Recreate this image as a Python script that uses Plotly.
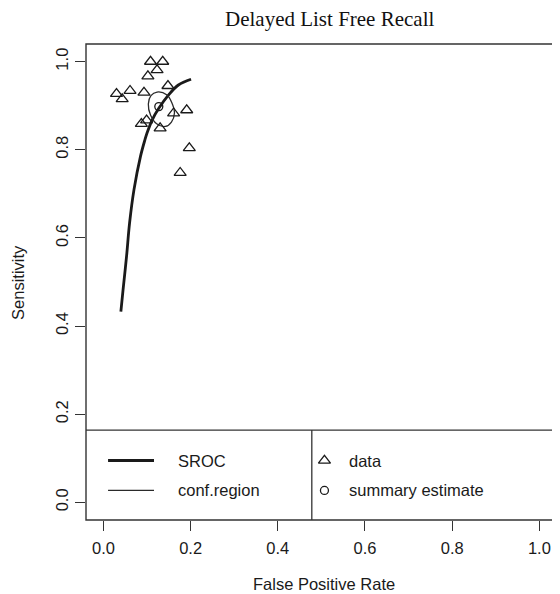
import plotly.graph_objects as go

# ---- data ----
data_fpr = [0.108, 0.136, 0.123, 0.102, 0.148, 0.061, 0.030, 0.043, 0.093,
            0.161, 0.191, 0.099, 0.087, 0.130, 0.197, 0.176]
data_sens = [1.000, 1.000, 0.981, 0.967, 0.945, 0.934, 0.927, 0.915, 0.930,
             0.883, 0.890, 0.867, 0.859, 0.849, 0.804, 0.748]

summary_fpr = [0.127]
summary_sens = [0.898]

sroc_fpr = [0.040, 0.045, 0.053, 0.060, 0.070, 0.085, 0.095, 0.100, 0.112,
            0.127, 0.149, 0.172, 0.201]
sroc_sens = [0.433, 0.482, 0.558, 0.634, 0.709, 0.785, 0.822, 0.838, 0.868,
             0.894, 0.924, 0.947, 0.960]

conf_fpr = [0.123, 0.145, 0.158, 0.163, 0.156, 0.142, 0.122, 0.108, 0.103, 0.109, 0.123]
conf_sens = [0.931, 0.925, 0.904, 0.884, 0.863, 0.853, 0.859, 0.879, 0.904, 0.923, 0.931]

tick_vals = [0.0, 0.2, 0.4, 0.6, 0.8, 1.0]
tick_text = ["0.0", "0.2", "0.4", "0.6", "0.8", "1.0"]

title_text = "Delayed List Free Recall"
x_title = "False Positive Rate"
y_title = "Sensitivity"
legend_left = ["SROC", "conf.region"]
legend_right = ["data", "summary estimate"]

INK = "#1a1a1a"
FONT = "Liberation Sans, Arial, sans-serif"

fig = go.Figure()

fig.add_trace(go.Scatter(
    x=sroc_fpr, y=sroc_sens, mode="lines",
    line=dict(color=INK, width=2.8, shape="spline"),
    hoverinfo="skip", showlegend=False))

fig.add_trace(go.Scatter(
    x=conf_fpr, y=conf_sens, mode="lines",
    line=dict(color="#2a2a2a", width=1.3, shape="spline", smoothing=1.2),
    hoverinfo="skip", showlegend=False))

fig.add_trace(go.Scatter(
    x=data_fpr, y=data_sens, mode="markers",
    marker=dict(symbol="triangle-up-open", size=10.5, color=INK,
                line=dict(width=1.3, color=INK)),
    showlegend=False))

fig.add_trace(go.Scatter(
    x=summary_fpr, y=summary_sens, mode="markers",
    marker=dict(symbol="circle-open", size=8, color=INK,
                line=dict(width=1.3, color=INK)),
    showlegend=False))

# ---- legend drawn R-style inside plot ----
leg_top = 0.164
leg_div = 0.478
row_y = [0.095, 0.027]

shapes = [
    dict(type="rect", xref="paper", yref="paper", x0=0, x1=1.05, y0=0, y1=1,
         line=dict(color="#333", width=1.4)),
    dict(type="line", xref="x", yref="y", x0=-0.05, x1=1.2, y0=leg_top, y1=leg_top,
         line=dict(color="#333", width=1.3)),
    dict(type="line", xref="x", yref="y", x0=leg_div, x1=leg_div, y0=-0.05, y1=leg_top,
         line=dict(color="#333", width=1.3)),
    dict(type="line", xref="x", yref="y", x0=0.0106, x1=0.116, y0=row_y[0], y1=row_y[0],
         line=dict(color=INK, width=2.8)),
    dict(type="line", xref="x", yref="y", x0=0.0106, x1=0.116, y0=row_y[1], y1=row_y[1],
         line=dict(color="#2a2a2a", width=1.3)),
]

fig.add_trace(go.Scatter(
    x=[0.507], y=[row_y[0]], mode="markers",
    marker=dict(symbol="triangle-up-open", size=10.5, color=INK, line=dict(width=1.3, color=INK)),
    hoverinfo="skip", showlegend=False))
fig.add_trace(go.Scatter(
    x=[0.507], y=[row_y[1]], mode="markers",
    marker=dict(symbol="circle-open", size=8, color=INK, line=dict(width=1.3, color=INK)),
    hoverinfo="skip", showlegend=False))

annotations = []
for lbl, yy in zip(legend_left, row_y):
    annotations.append(dict(x=0.1665, y=yy, xref="x", yref="y", text=lbl, showarrow=False,
                            xanchor="left", yanchor="middle",
                            font=dict(family=FONT, size=16.5, color=INK)))
for lbl, yy in zip(legend_right, row_y):
    annotations.append(dict(x=0.559, y=yy, xref="x", yref="y", text=lbl, showarrow=False,
                            xanchor="left", yanchor="middle",
                            font=dict(family=FONT, size=16.5, color=INK)))

annotations.append(dict(x=0.511, y=-0.134, xref="paper", yref="paper", text=x_title,
                        showarrow=False, xanchor="center", yanchor="middle",
                        font=dict(family=FONT, size=16.5, color=INK)))
annotations.append(dict(x=-0.146, y=0.5, xref="paper", yref="paper", text=y_title,
                        textangle=-90, showarrow=False, xanchor="center", yanchor="middle",
                        font=dict(family=FONT, size=16.5, color=INK)))
annotations.append(dict(x=0.5236, y=(520.3 - 19) / 476.3, xref="paper", yref="paper",
                        text=title_text, showarrow=False, xanchor="center", yanchor="middle",
                        font=dict(family="Liberation Serif, Times New Roman, serif",
                                  size=21, color="#111")))

# page body has an 8px margin; keep the figure inside the visible viewport
fig.update_layout(
    width=544, height=586,
    margin=dict(l=78, r=0, t=36, b=74, pad=0),
    paper_bgcolor="white", plot_bgcolor="white",
    shapes=shapes, annotations=annotations,
    showlegend=False,
    xaxis=dict(range=[-0.04, 1.029], tickvals=tick_vals, ticktext=tick_text,
               ticks="outside", ticklen=10, tickwidth=1.3, tickcolor="#333",
               ticklabelstandoff=3,
               showgrid=False, zeroline=False, showline=False,
               tickfont=dict(family=FONT, size=16.5, color=INK)),
    yaxis=dict(range=[-0.04, 1.04], tickvals=tick_vals, ticktext=tick_text,
               ticks="outside", ticklen=10, tickwidth=1.3, tickcolor="#333",
               tickangle=-90,
               showgrid=False, zeroline=False, showline=False,
               tickfont=dict(family=FONT, size=16.5, color=INK)),
)

fig.write_html("out.html")
